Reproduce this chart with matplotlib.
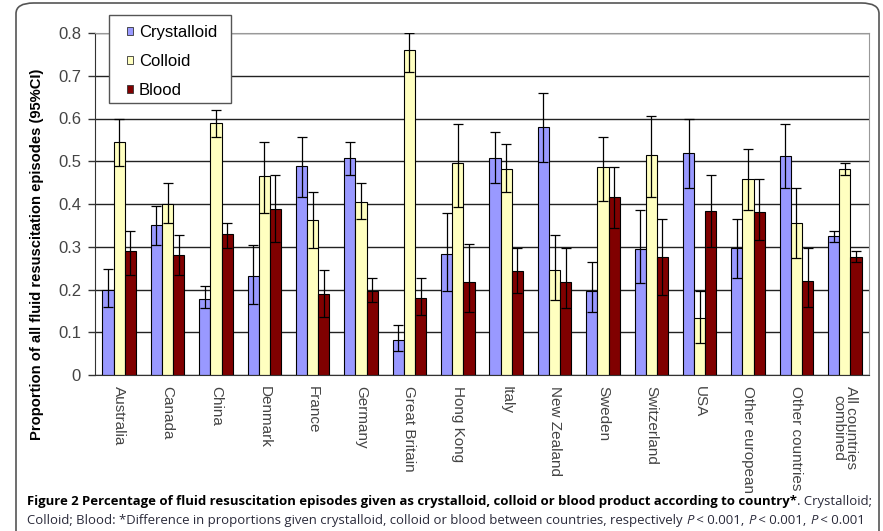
import matplotlib
matplotlib.use("Agg")
import matplotlib.pyplot as plt
from matplotlib.patches import FancyBboxPatch, Rectangle
from matplotlib import font_manager
import numpy as np

countries = ["Australia", "Canada", "China", "Denmark", "France", "Germany",
             "Great Britain", "Hong Kong", "Italy", "New Zealand", "Sweden",
             "Switzerland", "USA", "Other european", "Other countries",
             "All countries\ncombined"]

crystalloid = [0.200, 0.352, 0.178, 0.231, 0.490, 0.508, 0.083, 0.283,
               0.508, 0.581, 0.197, 0.294, 0.519, 0.296, 0.513, 0.324]
crystalloid_lo = [0.158, 0.304, 0.156, 0.166, 0.417, 0.468, 0.056, 0.196,
                  0.450, 0.499, 0.147, 0.216, 0.438, 0.226, 0.438, 0.310]
crystalloid_hi = [0.247, 0.396, 0.208, 0.304, 0.557, 0.546, 0.117, 0.379,
                  0.569, 0.660, 0.265, 0.386, 0.599, 0.366, 0.587, 0.336]

colloid = [0.545, 0.401, 0.589, 0.465, 0.362, 0.405, 0.760, 0.495,
           0.483, 0.246, 0.486, 0.515, 0.133, 0.458, 0.355, 0.483]
colloid_lo = [0.489, 0.356, 0.557, 0.378, 0.296, 0.365, 0.708, 0.394,
              0.427, 0.175, 0.408, 0.417, 0.076, 0.386, 0.274, 0.469]
colloid_hi = [0.600, 0.450, 0.619, 0.546, 0.427, 0.450, 0.800, 0.587,
              0.540, 0.327, 0.557, 0.607, 0.196, 0.529, 0.438, 0.497]

blood = [0.290, 0.280, 0.330, 0.388, 0.189, 0.197, 0.181, 0.217,
         0.244, 0.218, 0.417, 0.276, 0.384, 0.381, 0.221, 0.275]
blood_lo = [0.234, 0.234, 0.296, 0.310, 0.135, 0.170, 0.140, 0.147,
            0.191, 0.156, 0.343, 0.187, 0.300, 0.316, 0.160, 0.264]
blood_hi = [0.337, 0.327, 0.356, 0.467, 0.246, 0.226, 0.226, 0.306,
            0.296, 0.296, 0.487, 0.365, 0.467, 0.458, 0.296, 0.289]

series_names = ["Crystalloid", "Colloid", "Blood"]
series_colors = ["#9999ff", "#ffffc0", "#800000"]
yticks = [0, 0.1, 0.2, 0.3, 0.4, 0.5, 0.6, 0.7, 0.8]
ylabel = "Proportion of all fluid resuscitation episodes (95%CI)"

W, H = 883, 531
fig = plt.figure(figsize=(W / 100, H / 100), dpi=100)
fig.patch.set_facecolor("white")
renderer = fig.canvas.get_renderer()

def fx(px):
    return px / W

def fy(py):
    return 1 - py / H

# rounded frame around the figure panel
frame = FancyBboxPatch((fx(16), -0.1), fx(879 - 16), 1.0 - 3 / H + 0.1,
                       boxstyle="round,pad=0,rounding_size=0.02",
                       transform=fig.transFigure, fill=False,
                       edgecolor="#555555", linewidth=1.2, zorder=0)
fig.patches.append(frame)

ax = fig.add_axes([fx(95), fy(375), fx(869 - 95), (375 - 33) / H])

x = np.arange(len(countries))
bw = 0.23
data = [(crystalloid, crystalloid_lo, crystalloid_hi),
        (colloid, colloid_lo, colloid_hi),
        (blood, blood_lo, blood_hi)]
for k, ((vals, lo, hi), name, col) in enumerate(zip(data, series_names, series_colors)):
    vals = np.array(vals)
    err = np.vstack([vals - np.array(lo), np.array(hi) - vals])
    pos = x + (k - 1) * bw
    ax.bar(pos, vals, width=bw, color=col, edgecolor="black", linewidth=0.8,
           label=name, zorder=2)
    ax.errorbar(pos, vals, yerr=err, fmt="none", ecolor="black",
                elinewidth=0.9, capsize=3.5, capthick=0.9, zorder=3)

ax.set_xlim(-0.5, len(countries) - 0.5)
ax.set_ylim(0, 0.8)
ax.set_yticks(yticks)
ax.set_yticklabels([f"{t:g}" for t in yticks], fontsize=12,
                   family="Liberation Sans", color="#444444")
ax.yaxis.grid(True, color="#222222", linewidth=1.0, zorder=1)
ax.set_axisbelow(True)
ax.tick_params(axis="y", direction="out", length=5, width=1, color="#333333", pad=5)
ax.set_xticks(x)
ax.set_xticklabels(countries, rotation=270, fontsize=11, family="Liberation Sans",
                   color="#444444", va="top", ha="center", linespacing=0.9)
ax.tick_params(axis="x", length=0, pad=8)
for s in ["top", "right"]:
    ax.spines[s].set_color("#999999")
ax.spines["left"].set_color("#333333")
ax.spines["bottom"].set_color("#333333")

# y-axis title, sized to run from 68 px to 440 px down the panel
yl = fig.text(fx(37), fy(254), ylabel, rotation=90, fontsize=10, fontweight="bold",
              family="Liberation Sans", ha="center", va="center")
yl_len = yl.get_window_extent(renderer=renderer).height
yl.set_fontsize(10 * (440 - 68) / yl_len)

# legend: boxed panel with small square keys
legend_box = Rectangle((fx(108.5), fy(103)), fx(231 - 108.5), (103 - 15) / H,
                       transform=fig.transFigure, facecolor="white",
                       edgecolor="#555555", linewidth=1.0, zorder=4, clip_on=False)
ax.add_artist(legend_box)
leg = ax.legend(loc="upper left", bbox_to_anchor=(fx(127), fy(25)),
                bbox_transform=fig.transFigure,
                prop={"family": "Liberation Sans", "size": 12},
                frameon=False, handlelength=0.36, handleheight=0.36,
                handletextpad=0.36, labelspacing=0.83, borderpad=0,
                borderaxespad=0)
leg.set_zorder(5)
for h in leg.legend_handles:
    h.set_linewidth(0.6)
    h.set_edgecolor("#333333")

# caption set in runs of mixed weight and style
names = {f.name for f in font_manager.fontManager.ttflist}
cap_family = (["Liberation Sans Narrow"] if "Liberation Sans Narrow" in names
              else ["Open Sans"]) + ["DejaVu Sans"]

def draw_runs(runs, x0, y0, size, draw=True):
    xp = x0
    items = []
    for txt, weight, style, color in runs:
        t = fig.text(fx(xp), fy(y0), txt, fontsize=size, fontweight=weight,
                     fontstyle=style, color=color, family=cap_family,
                     va="baseline", ha="left")
        xp += t.get_window_extent(renderer=renderer).width
        items.append(t)
    if not draw:
        for t in items:
            t.remove()
    return xp - x0

dark = "#2a2a3a"
line1 = [("Figure 2 Percentage of fluid resuscitation episodes given as crystalloid, "
          "colloid or blood product according to country*", "bold", "normal", "black"),
         (". Crystalloid;", "normal", "normal", dark)]
line2 = [("Colloid; Blood: *Difference in proportions given crystalloid, colloid or "
          "blood between countries, respectively ", "normal", "normal", dark),
         ("P", "normal", "italic", dark), (" < 0.001, ", "normal", "normal", dark),
         ("P", "normal", "italic", dark), (" < 0.001, ", "normal", "normal", dark),
         ("P", "normal", "italic", dark), (" < 0.001", "normal", "normal", dark)]

trial = 10.0
w1 = draw_runs(line1, 27, 505, trial, draw=False)
cap_size = trial * (873 - 27) / w1
draw_runs(line1, 27, 505, cap_size)
draw_runs(line2, 27, 524, cap_size)

fig.savefig("out.png", dpi=100)
